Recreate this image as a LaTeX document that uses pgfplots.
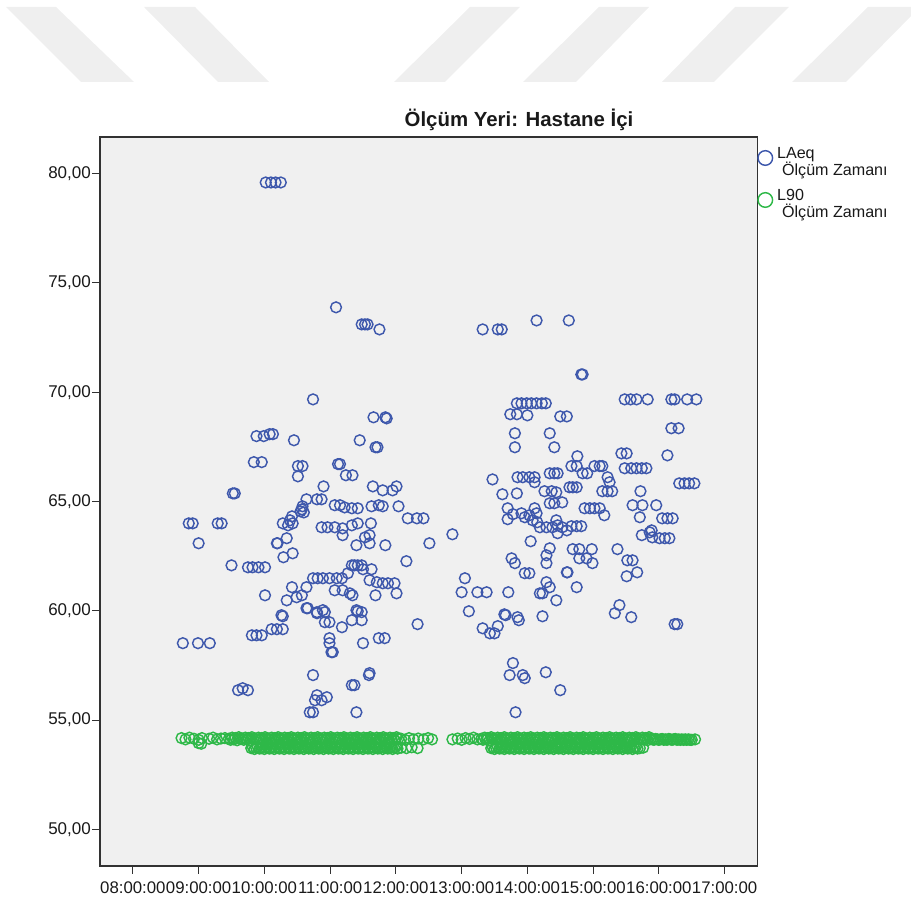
\documentclass[border=0pt]{standalone}
\usepackage{pgfplots}
\pgfplotsset{compat=1.18}
\usepackage{fontspec}
\setmainfont{Liberation Sans}
\definecolor{bgray}{RGB}{240,240,240}
\definecolor{sblue}{RGB}{62,88,172}
\definecolor{sgreen}{RGB}{46,184,72}
\definecolor{wm}{RGB}{239,239,239}
\definecolor{axc}{RGB}{50,50,50}
\definecolor{txc}{RGB}{25,25,25}
\begin{document}
\begin{tikzpicture}
\useasboundingbox (0pt,0pt) rectangle (911pt,905pt);
\begin{scope}[x=1pt,y=1pt]
\clip (0,0) rectangle (911,905);
\fill[wm] (6,898) -- (56,898) -- (134,823) -- (81,823) -- cycle;
\fill[wm] (144,898) -- (195,898) -- (269,823) -- (218,823) -- cycle;
\fill[wm] (470,898) -- (520,898) -- (445,823) -- (394,823) -- cycle;
\fill[wm] (599,898) -- (649,898) -- (576,823) -- (523,823) -- cycle;
\fill[wm] (735,898) -- (789,898) -- (714,823) -- (662,823) -- cycle;
\fill[wm] (868,898) -- (920,898) -- (846,823) -- (792,823) -- cycle;
\end{scope}
\begin{axis}[
  at={(100pt,39pt)}, anchor=south west,
  scale only axis, width=657.5pt, height=729pt,
  xmin=7.5, xmax=17.5, ymin=48.33, ymax=81.67,
  axis background/.style={fill=bgray},
  axis line style={axc, line width=1.2pt},
  xtick={8,9,10,11,12,13,14,15,16,17},
  xticklabels={08:00:00,09:00:00,10:00:00,11:00:00,12:00:00,13:00:00,14:00:00,15:00:00,16:00:00,17:00:00},
  ytick={50,55,60,65,70,75,80},
  yticklabels={{50,00},{55,00},{60,00},{65,00},{70,00},{75,00},{80,00}},
  tick align=outside, tick pos=left, major tick length=8pt,
  tick style={axc, line width=1.2pt},
  xticklabel style={font=\fontsize{16.8}{17}\selectfont, text=txc, inner sep=1pt, yshift=-7pt},
  yticklabel style={font=\fontsize{17}{17}\selectfont, text=txc, inner sep=1pt},
  legend style={at={(1,1)}, anchor=north west, yshift=-3.5pt, draw=none, fill=none,
    inner sep=0pt, outer sep=0pt, row sep=16pt,
    font=\fontsize{16.1}{16.1}\selectfont, text=txc,
    nodes={inner sep=1pt}, cells={anchor=west},
    /tikz/every odd column/.append style={column sep=3pt}},
  legend cell align=left,
  legend image code/.code={\path[draw=none, fill=none] (0pt,-13pt) rectangle (15.6pt,13pt);
    \draw[#1, mark size=7.3pt] plot coordinates {(7.8pt,-4.5pt)};},
  clip=false,
]
\addplot[only marks, mark=o, draw=sblue, mark size=5.4pt, line width=1.45pt]
coordinates {
(10.02,79.59)(10.10,79.59)(10.17,79.59)(10.25,79.59)
(11.09,73.88)
(11.48,73.10)(11.53,73.10)(11.57,73.10)
(11.75,72.87)
(10.74,69.67)
(11.66,68.85)(11.84,68.85)(11.86,68.80)
(9.88,67.99)(9.99,67.99)(10.08,68.08)(10.13,68.08)
(10.45,67.80)
(11.45,67.80)
(11.69,67.48)(11.72,67.48)
(9.84,66.80)(9.96,66.80)
(10.51,66.62)(10.58,66.62)(10.51,66.15)
(11.12,66.71)(11.15,66.71)
(11.24,66.20)(11.34,66.20)
(10.90,65.69)
(9.52,65.37)(9.55,65.37)
(11.65,65.69)(11.80,65.51)(11.95,65.51)(12.01,65.69)
(10.64,65.10)(10.80,65.10)(10.87,65.10)
(11.07,64.83)(11.15,64.83)(11.22,64.73)(11.33,64.69)(11.42,64.69)
(11.63,64.78)(11.74,64.83)(11.80,64.78)
(12.04,64.78)
(10.57,64.64)(10.58,64.78)(10.55,64.55)(10.60,64.50)
(10.42,64.32)(10.39,64.14)(10.43,64.00)(10.28,64.00)(10.36,63.91)
(8.85,64.00)(8.91,64.00)(9.29,64.00)(9.35,64.00)
(9.00,63.09)
(10.87,63.82)(10.96,63.82)(11.07,63.82)(11.19,63.77)(11.33,63.91)(11.42,64.00)(11.62,64.00)
(11.19,63.46)
(12.18,64.23)(12.32,64.23)(12.42,64.23)
(11.53,63.36)(11.60,63.46)(11.40,63.00)(11.60,63.09)(11.84,63.00)(12.51,63.09)
(10.19,63.09)(10.20,63.09)(10.34,63.32)(10.29,62.45)(10.43,62.63)
(12.16,62.27)
(9.50,62.08)(9.75,61.99)(9.82,61.99)(9.91,61.99)(10.01,61.99)
(11.33,62.08)(11.37,62.08)(11.42,62.08)(11.48,62.08)(11.50,61.90)(11.63,61.90)
(10.74,61.49)(10.81,61.49)(10.89,61.49)(10.99,61.49)(11.10,61.49)(11.18,61.49)(11.27,61.72)
(11.60,61.40)(11.71,61.31)(11.80,61.26)(11.88,61.26)(11.98,61.26)(12.01,60.80)
(10.01,60.71)
(10.42,61.08)(10.64,61.08)
(10.34,60.48)(10.49,60.62)(10.57,60.71)(10.64,60.12)
(11.07,60.94)(11.19,60.94)(11.30,60.80)
(11.34,60.71)(11.69,60.71)
(10.80,59.94)(10.92,59.94)(11.40,60.03)(11.48,59.94)
(10.26,59.80)
(10.28,59.75)(10.11,59.16)(10.19,59.16)(10.28,59.16)
(9.81,58.88)(9.88,58.88)(9.96,58.88)
(8.76,58.52)(8.99,58.52)(9.17,58.52)
(10.66,60.12)(10.80,59.89)(10.89,60.03)(10.92,59.48)(10.99,59.48)(11.18,59.25)
(11.33,59.57)(11.42,59.98)(11.48,59.57)
(10.99,58.75)(10.99,58.52)(11.02,58.11)(11.04,58.11)
(11.50,58.52)
(11.74,58.75)(11.83,58.75)
(12.33,59.39)
(10.74,57.06)
(11.33,56.60)(11.37,56.60)
(11.59,57.06)(11.60,57.15)
(9.60,56.37)(9.67,56.46)(9.75,56.37)
(10.80,56.14)(10.87,55.91)(10.95,56.05)(10.77,55.91)
(10.69,55.36)(10.74,55.36)
(11.40,55.36)
(12.86,63.50)
(13.32,72.87)(13.55,72.87)(13.61,72.87)
(14.14,73.28)
(14.63,73.28)
(14.82,70.81)(14.84,70.81)
(13.84,69.49)(13.91,69.49)(13.99,69.49)(14.06,69.49)(14.14,69.49)(14.22,69.49)(14.28,69.49)
(13.74,68.99)(13.84,68.99)(14.00,68.94)
(14.50,68.89)(14.60,68.89)
(15.48,69.67)(15.57,69.67)(15.66,69.67)(15.83,69.67)
(16.19,69.67)(16.24,69.67)(16.43,69.67)(16.57,69.67)
(16.19,68.35)(16.30,68.35)
(13.81,68.12)(13.81,67.48)
(14.34,68.12)(14.41,67.48)
(14.76,67.07)
(15.43,67.20)(15.51,67.20)
(16.13,67.11)
(14.67,66.62)(14.75,66.62)
(15.02,66.62)(15.10,66.62)(15.14,66.62)
(15.48,66.52)(15.58,66.52)(15.66,66.52)(15.74,66.52)(15.81,66.52)
(13.47,66.01)
(13.85,66.11)(13.93,66.11)(14.03,66.11)(14.11,66.11)(14.11,65.88)
(14.34,66.29)(14.41,66.29)(14.46,66.29)
(14.84,66.29)(14.91,66.29)
(15.22,66.11)(15.25,65.88)
(16.31,65.83)(16.39,65.83)(16.46,65.83)(16.54,65.83)
(13.62,65.33)(13.84,65.37)
(14.26,65.47)(14.37,65.47)(14.44,65.42)
(14.64,65.65)(14.69,65.65)(14.75,65.65)
(15.14,65.47)(15.22,65.47)(15.29,65.47)
(15.72,65.47)
(14.34,64.92)(14.41,64.92)(14.53,64.96)
(14.87,64.69)(14.95,64.69)(15.02,64.69)(15.10,64.69)(15.17,64.37)
(15.60,64.83)(15.75,64.83)(15.96,64.83)
(13.70,64.69)(13.78,64.42)(13.91,64.46)(13.96,64.28)(14.03,64.37)(14.11,64.69)(14.14,64.46)(14.08,64.14)(14.15,64.05)(13.70,64.19)
(14.19,63.82)(14.29,63.82)(14.38,63.82)(14.46,63.91)(14.53,63.82)(14.60,63.68)(14.67,63.87)(14.75,63.87)(14.82,63.87)
(14.44,64.14)(14.46,63.55)
(15.71,64.28)
(16.05,64.23)(16.13,64.23)(16.21,64.23)
(15.74,63.46)(15.86,63.59)(15.90,63.36)(16.01,63.32)(16.09,63.32)(16.16,63.32)(15.89,63.68)
(14.05,63.18)
(14.34,62.86)(14.29,62.54)(14.29,62.18)
(14.69,62.82)(14.79,62.82)(14.98,62.82)
(14.79,62.40)(14.90,62.40)(14.99,62.18)
(15.37,62.82)
(15.52,62.31)(15.60,62.31)
(13.76,62.40)(13.81,62.18)
(13.96,61.72)(14.03,61.72)
(14.60,61.76)(14.61,61.76)
(15.51,61.58)(15.67,61.76)
(13.05,61.49)(13.00,60.85)(13.24,60.85)(13.38,60.85)(13.71,60.85)
(14.29,61.31)(14.34,61.08)(14.19,60.80)(14.23,60.80)
(14.75,61.08)
(14.44,60.48)
(13.11,59.98)
(13.65,59.84)(13.85,59.71)(14.23,59.75)
(15.40,60.26)(15.33,59.89)(15.58,59.71)
(13.32,59.20)(13.43,58.97)(13.50,58.97)(13.55,59.30)(13.67,59.80)(13.87,59.57)
(16.24,59.39)(16.28,59.39)
(13.78,57.61)(13.73,57.06)
(13.93,57.06)(13.96,56.92)
(14.28,57.19)
(14.50,56.37)
(13.82,55.36)
};
\addlegendentry{\begin{tabular}[t]{@{}l@{}}LAeq\\[-0.8pt]\hspace{5pt}Ölçüm Zamanı\end{tabular}}
\addplot[only marks, mark=o, draw=sgreen, mark size=5.4pt, line width=1.45pt]
coordinates {
(8.74,54.18)(8.80,54.12)(8.86,54.20)(8.93,54.15)(9.00,54.10)(9.05,54.18)(9.16,54.15)(9.22,54.20)(9.28,54.12)(9.34,54.16)(9.40,54.18)
(9.460,54.15)(9.485,54.10)(9.510,54.20)(9.535,54.12)(9.560,54.18)(9.585,54.08)(9.610,54.22)(9.635,54.14)
(9.660,54.15)(9.685,54.10)(9.710,54.20)(9.735,54.12)(9.760,54.18)(9.785,54.08)(9.810,54.22)(9.835,54.14)
(9.860,54.15)(9.885,54.10)(9.910,54.20)(9.935,54.12)(9.960,54.18)(9.985,54.08)(10.010,54.22)(10.035,54.14)
(10.060,54.15)(10.085,54.10)(10.110,54.20)(10.135,54.12)(10.160,54.18)(10.185,54.08)(10.210,54.22)(10.235,54.14)
(10.260,54.15)(10.285,54.10)(10.310,54.20)(10.335,54.12)(10.360,54.18)(10.385,54.08)(10.410,54.22)(10.435,54.14)
(10.460,54.15)(10.485,54.10)(10.510,54.20)(10.535,54.12)(10.560,54.18)(10.585,54.08)(10.610,54.22)(10.635,54.14)
(10.660,54.15)(10.685,54.10)(10.710,54.20)(10.735,54.12)(10.760,54.18)(10.785,54.08)(10.810,54.22)(10.835,54.14)
(10.860,54.15)(10.885,54.10)(10.910,54.20)(10.935,54.12)(10.960,54.18)(10.985,54.08)(11.010,54.22)(11.035,54.14)
(11.060,54.15)(11.085,54.10)(11.110,54.20)(11.135,54.12)(11.160,54.18)(11.185,54.08)(11.210,54.22)(11.235,54.14)
(11.260,54.15)(11.285,54.10)(11.310,54.20)(11.335,54.12)(11.360,54.18)(11.385,54.08)(11.410,54.22)(11.435,54.14)
(11.460,54.15)(11.485,54.10)(11.510,54.20)(11.535,54.12)(11.560,54.18)(11.585,54.08)(11.610,54.22)(11.635,54.14)
(11.660,54.15)(11.685,54.10)(11.710,54.20)(11.735,54.12)(11.760,54.18)(11.785,54.08)(11.810,54.22)(11.835,54.14)
(11.860,54.15)(11.885,54.10)(11.910,54.20)(11.935,54.12)(11.960,54.18)(11.985,54.08)(12.010,54.22)(12.035,54.14)
(12.08,54.15)(12.14,54.10)(12.20,54.18)(12.27,54.12)(12.34,54.16)(12.42,54.12)(12.49,54.18)(12.55,54.12)
(12.86,54.12)(12.94,54.16)(13.00,54.10)(13.06,54.18)(13.12,54.14)(13.18,54.20)(13.24,54.12)
(13.300,54.15)(13.325,54.10)(13.350,54.20)(13.375,54.12)(13.400,54.18)(13.425,54.08)(13.450,54.22)(13.475,54.14)
(13.500,54.15)(13.525,54.10)(13.550,54.20)(13.575,54.12)(13.600,54.18)(13.625,54.08)(13.650,54.22)(13.675,54.14)
(13.700,54.15)(13.725,54.10)(13.750,54.20)(13.775,54.12)(13.800,54.18)(13.825,54.08)(13.850,54.22)(13.875,54.14)
(13.900,54.15)(13.925,54.10)(13.950,54.20)(13.975,54.12)(14.000,54.18)(14.025,54.08)(14.050,54.22)(14.075,54.14)
(14.100,54.15)(14.125,54.10)(14.150,54.20)(14.175,54.12)(14.200,54.18)(14.225,54.08)(14.250,54.22)(14.275,54.14)
(14.300,54.15)(14.325,54.10)(14.350,54.20)(14.375,54.12)(14.400,54.18)(14.425,54.08)(14.450,54.22)(14.475,54.14)
(14.500,54.15)(14.525,54.10)(14.550,54.20)(14.575,54.12)(14.600,54.18)(14.625,54.08)(14.650,54.22)(14.675,54.14)
(14.700,54.15)(14.725,54.10)(14.750,54.20)(14.775,54.12)(14.800,54.18)(14.825,54.08)(14.850,54.22)(14.875,54.14)
(14.900,54.15)(14.925,54.10)(14.950,54.20)(14.975,54.12)(15.000,54.18)(15.025,54.08)(15.050,54.22)(15.075,54.14)
(15.100,54.15)(15.125,54.10)(15.150,54.20)(15.175,54.12)(15.200,54.18)(15.225,54.08)(15.250,54.22)(15.275,54.14)
(15.300,54.15)(15.325,54.10)(15.350,54.20)(15.375,54.12)(15.400,54.18)(15.425,54.08)(15.450,54.22)(15.475,54.14)
(15.500,54.15)(15.525,54.10)(15.550,54.20)(15.575,54.12)(15.600,54.18)(15.625,54.08)(15.650,54.22)(15.675,54.14)
(15.700,54.15)(15.725,54.10)(15.750,54.20)(15.775,54.12)(15.800,54.18)(15.825,54.08)(15.850,54.22)(15.875,54.14)
(15.900,54.12)(15.925,54.10)(15.950,54.14)(15.975,54.12)(16.000,54.10)(16.025,54.12)(16.050,54.14)(16.075,54.10)
(16.100,54.12)(16.125,54.10)(16.150,54.14)(16.175,54.12)(16.200,54.10)(16.225,54.12)(16.250,54.14)(16.275,54.10)
(16.300,54.12)(16.325,54.10)(16.350,54.12)(16.375,54.10)(16.400,54.12)(16.425,54.10)(16.450,54.12)(16.475,54.10)
(16.50,54.10)(16.55,54.12)
(9.00,53.95)(9.04,53.92)
(9.800,53.72)(9.825,53.76)(9.850,53.68)(9.875,53.74)(9.900,53.78)(9.925,53.70)
(9.950,53.72)(9.975,53.76)(10.000,53.68)(10.025,53.74)(10.050,53.78)(10.075,53.70)
(10.100,53.72)(10.125,53.76)(10.150,53.68)(10.175,53.74)(10.200,53.78)(10.225,53.70)
(10.250,53.72)(10.275,53.76)(10.300,53.68)(10.325,53.74)(10.350,53.78)(10.375,53.70)
(10.400,53.72)(10.425,53.76)(10.450,53.68)(10.475,53.74)(10.500,53.78)(10.525,53.70)
(10.550,53.72)(10.575,53.76)(10.600,53.68)(10.625,53.74)(10.650,53.78)(10.675,53.70)
(10.700,53.72)(10.725,53.76)(10.750,53.68)(10.775,53.74)(10.800,53.78)(10.825,53.70)
(10.850,53.72)(10.875,53.76)(10.900,53.68)(10.925,53.74)(10.950,53.78)(10.975,53.70)
(11.000,53.72)(11.025,53.76)(11.050,53.68)(11.075,53.74)(11.100,53.78)(11.125,53.70)
(11.150,53.72)(11.175,53.76)(11.200,53.68)(11.225,53.74)(11.250,53.78)(11.275,53.70)
(11.300,53.72)(11.325,53.76)(11.350,53.68)(11.375,53.74)(11.400,53.78)(11.425,53.70)
(11.450,53.72)(11.475,53.76)(11.500,53.68)(11.525,53.74)(11.550,53.78)(11.575,53.70)
(11.600,53.72)(11.625,53.76)(11.650,53.68)(11.675,53.74)(11.700,53.78)(11.725,53.70)
(11.750,53.72)(11.775,53.76)(11.800,53.68)(11.825,53.74)(11.850,53.78)(11.875,53.70)
(11.900,53.72)(11.925,53.76)(11.950,53.68)(11.975,53.74)(12.000,53.78)(12.025,53.70)
(12.08,53.74)(12.16,53.72)(12.24,53.76)(12.33,53.72)
(13.450,53.72)(13.475,53.76)(13.500,53.68)(13.525,53.74)(13.550,53.78)(13.575,53.70)
(13.600,53.72)(13.625,53.76)(13.650,53.68)(13.675,53.74)(13.700,53.78)(13.725,53.70)
(13.750,53.72)(13.775,53.76)(13.800,53.68)(13.825,53.74)(13.850,53.78)(13.875,53.70)
(13.900,53.72)(13.925,53.76)(13.950,53.68)(13.975,53.74)(14.000,53.78)(14.025,53.70)
(14.050,53.72)(14.075,53.76)(14.100,53.68)(14.125,53.74)(14.150,53.78)(14.175,53.70)
(14.200,53.72)(14.225,53.76)(14.250,53.68)(14.275,53.74)(14.300,53.78)(14.325,53.70)
(14.350,53.72)(14.375,53.76)(14.400,53.68)(14.425,53.74)(14.450,53.78)(14.475,53.70)
(14.500,53.72)(14.525,53.76)(14.550,53.68)(14.575,53.74)(14.600,53.78)(14.625,53.70)
(14.650,53.72)(14.675,53.76)(14.700,53.68)(14.725,53.74)(14.750,53.78)(14.775,53.70)
(14.800,53.72)(14.825,53.76)(14.850,53.68)(14.875,53.74)(14.900,53.78)(14.925,53.70)
(14.950,53.72)(14.975,53.76)(15.000,53.68)(15.025,53.74)(15.050,53.78)(15.075,53.70)
(15.100,53.72)(15.125,53.76)(15.150,53.68)(15.175,53.74)(15.200,53.78)(15.225,53.70)
(15.250,53.72)(15.275,53.76)(15.300,53.68)(15.325,53.74)(15.350,53.78)(15.375,53.70)
(15.400,53.72)(15.425,53.76)(15.450,53.68)(15.475,53.74)(15.500,53.78)(15.525,53.70)
(15.550,53.72)(15.575,53.76)(15.600,53.68)(15.625,53.74)(15.650,53.78)(15.675,53.70)
(15.71,53.72)(15.76,53.74)
(10.05,53.95)(10.35,53.92)(10.70,53.98)(11.00,53.95)(11.30,53.92)(11.60,53.96)(11.90,53.95)
(13.90,53.95)(14.20,53.92)(14.50,53.98)(14.80,53.95)(15.10,53.93)(15.40,53.96)
};
\addlegendentry{\begin{tabular}[t]{@{}l@{}}L90\\[-0.8pt]\hspace{5pt}Ölçüm Zamanı\end{tabular}}
\end{axis}
\node[anchor=base, font=\fontsize{20.4}{21}\selectfont\bfseries, text=txc] at (519pt,778pt) {Ölçüm Yeri: Hastane İçi};
\end{tikzpicture}
\end{document}
